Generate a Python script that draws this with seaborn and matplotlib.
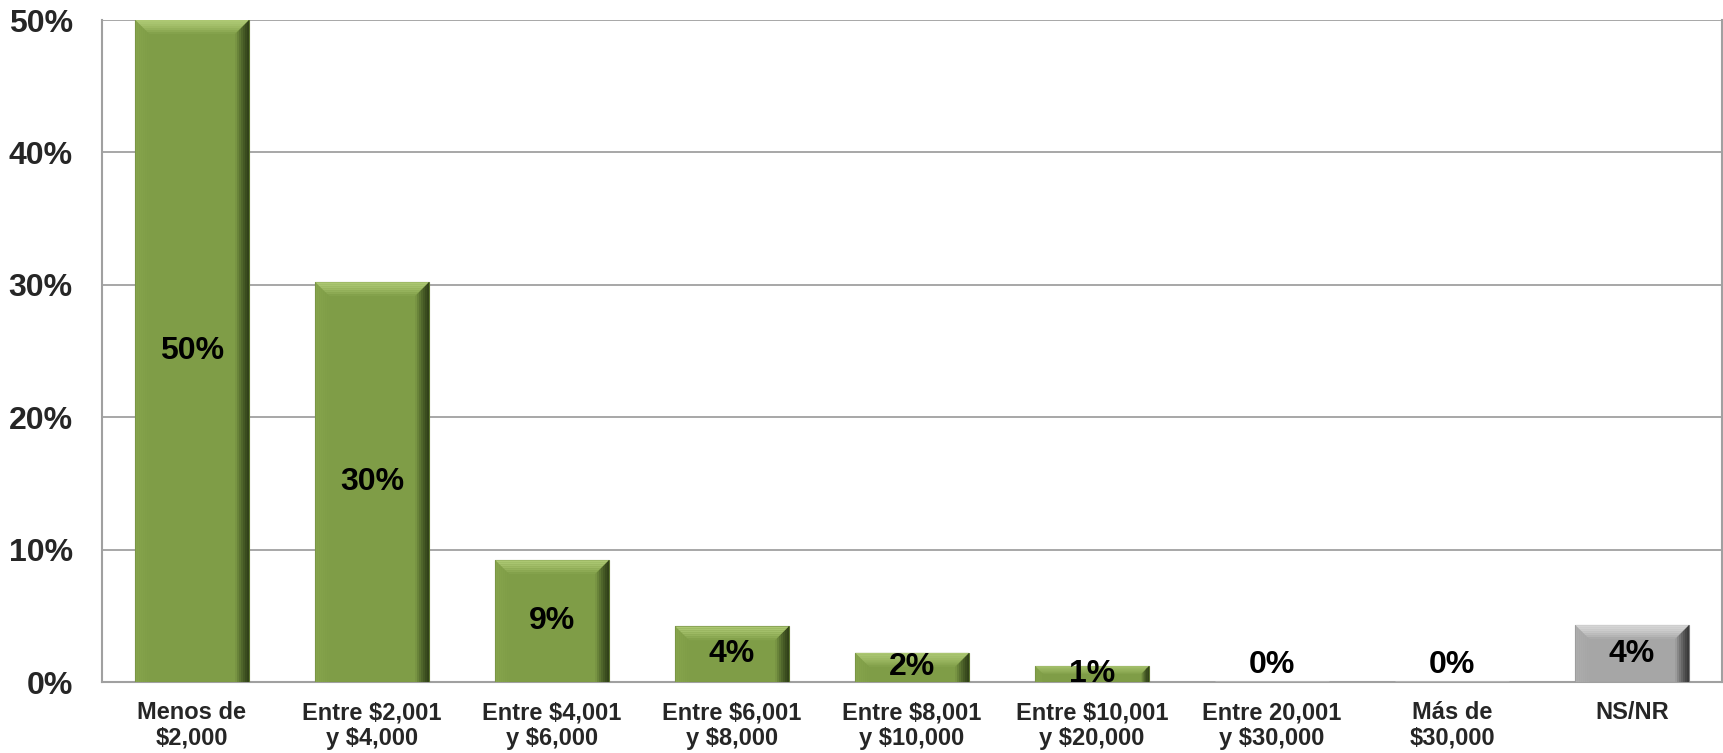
import matplotlib
matplotlib.use("Agg")
import matplotlib.pyplot as plt
import seaborn as sns
import pandas as pd
import numpy as np
from matplotlib.patches import Polygon
from matplotlib.colors import to_rgb
from matplotlib.ticker import FixedLocator

categories = ["Menos de\n$2,000", "Entre $2,001\ny $4,000", "Entre $4,001\ny $6,000",
              "Entre $6,001\ny $8,000", "Entre $8,001\ny $10,000", "Entre $10,001\ny $20,000",
              "Entre 20,001\ny $30,000", "Más de\n$30,000", "NS/NR"]
values = [50.0, 30.2, 9.2, 4.2, 2.2, 1.2, 0.0, 0.0, 4.3]
bar_labels = ["50%", "30%", "9%", "4%", "2%", "1%", "0%", "0%", "4%"]
y_ticks = [0, 10, 20, 30, 40, 50]

GREEN = {"face": "#7F9D47", "top": "#ADC873", "left": "#86A54C", "right": "#2F3F18", "edge": "#5C7430"}
GRAY = {"face": "#A6A6A6", "top": "#D6D6D6", "left": "#ADADAD", "right": "#383838", "edge": "#7A7A7A"}
schemes = [GREEN] * 8 + [GRAY]

sns.set_theme(style="white")
plt.rcParams["font.family"] = ["Liberation Sans", "DejaVu Sans"]

W, H = 1724, 753
fig = plt.figure(figsize=(W / 100, H / 100), dpi=100)
ax_l, ax_r, ax_t, ax_b = 102, 1722, 20, 682
ax = fig.add_axes([ax_l / W, 1 - ax_b / H, (ax_r - ax_l) / W, (ax_b - ax_t) / H])

df = pd.DataFrame({"cat": categories, "val": values})
sns.barplot(data=df, x="cat", y="val", hue="cat", palette=[s["face"] for s in schemes],
            width=0.63, legend=False, ax=ax, saturation=1, zorder=3)

ax.set_xlim(-0.5, len(categories) - 0.5)
ax.set_ylim(0, 50)
ax.set_yticks(y_ticks)
ax.set_yticklabels([f"{t}%" for t in y_ticks])
ax.yaxis.grid(True, color="#A0A0A0", linewidth=1.3, zorder=0)
ax.set_axisbelow(True)
ax.set_xlabel("")
ax.set_ylabel("")

for side in ["left", "bottom", "right"]:
    ax.spines[side].set_visible(True)
    ax.spines[side].set_color("#A0A0A0")
    ax.spines[side].set_linewidth(1.5)
ax.spines["top"].set_visible(False)

ax.tick_params(axis="y", length=0, pad=21, labelsize=23)
for lbl in ax.get_yticklabels():
    lbl.set_fontweight("bold")
ax.tick_params(axis="x", which="major", length=0, pad=14, labelsize=17)
for lbl in ax.get_xticklabels():
    lbl.set_fontweight("bold")
    lbl.set_linespacing(1.12)
ax.xaxis.set_minor_locator(FixedLocator([i - 0.5 for i in range(len(categories) + 1)]))
ax.tick_params(axis="x", which="minor", length=7, width=1.5, color="#A0A0A0", direction="out")


def mix(c1, c2, t):
    a, b = np.array(to_rgb(c1)), np.array(to_rgb(c2))
    return tuple(a * (1 - t) + b * t)


# bevel effect derived from the bar patches
px_x = (len(categories)) / (ax_r - ax_l)
px_y = 50 / (ax_b - ax_t)
bev = 14
nstrip = 7
for patch, sch in zip(ax.patches, schemes):
    x0, y0 = patch.get_x(), patch.get_y()
    w, h = patch.get_width(), patch.get_height()
    if h <= 0:
        continue
    patch.set_edgecolor(sch["edge"])
    patch.set_linewidth(0.8)
    hpx = h / px_y
    b = min(bev, hpx / 2.0)
    x1, y1 = x0 + w, y0 + h
    for k in range(nstrip):
        f0, f1 = k / nstrip, (k + 1) / nstrip
        bx0, by0 = b * f0 * px_x, b * f0 * px_y
        bx1, by1 = b * f1 * px_x, b * f1 * px_y
        t = (k + 0.5) / nstrip
        # top (light, fading to face)
        ax.add_patch(Polygon([(x0 + bx0, y1 - by0), (x1 - bx0, y1 - by0), (x1 - bx1, y1 - by1), (x0 + bx1, y1 - by1)],
                             closed=True, facecolor=mix(sch["top"], sch["face"], t ** 1.5), edgecolor="none", zorder=3.5))
        # right (dark at outer edge)
        ax.add_patch(Polygon([(x1 - bx0, y1 - by0), (x1 - bx0, y0), (x1 - bx1, y0), (x1 - bx1, y1 - by1)],
                             closed=True, facecolor=mix(sch["right"], sch["face"], t ** 1.3), edgecolor="none", zorder=3.4))
        # left (subtle)
        ax.add_patch(Polygon([(x0 + bx0, y1 - by0), (x0 + bx1, y1 - by1), (x0 + bx1, y0), (x0 + bx0, y0)],
                             closed=True, facecolor=mix(sch["left"], sch["face"], t), edgecolor="none", zorder=3.4))

for i, (v, t) in enumerate(zip(values, bar_labels)):
    if v > 0:
        ax.text(i, v / 2, t, ha="center", va="center", fontsize=23, fontweight="bold",
                color="black", zorder=5)
    else:
        ax.text(i, 0.15, t, ha="center", va="bottom", fontsize=23, fontweight="bold",
                color="black", zorder=5)

fig.savefig("out.png", dpi=100)
